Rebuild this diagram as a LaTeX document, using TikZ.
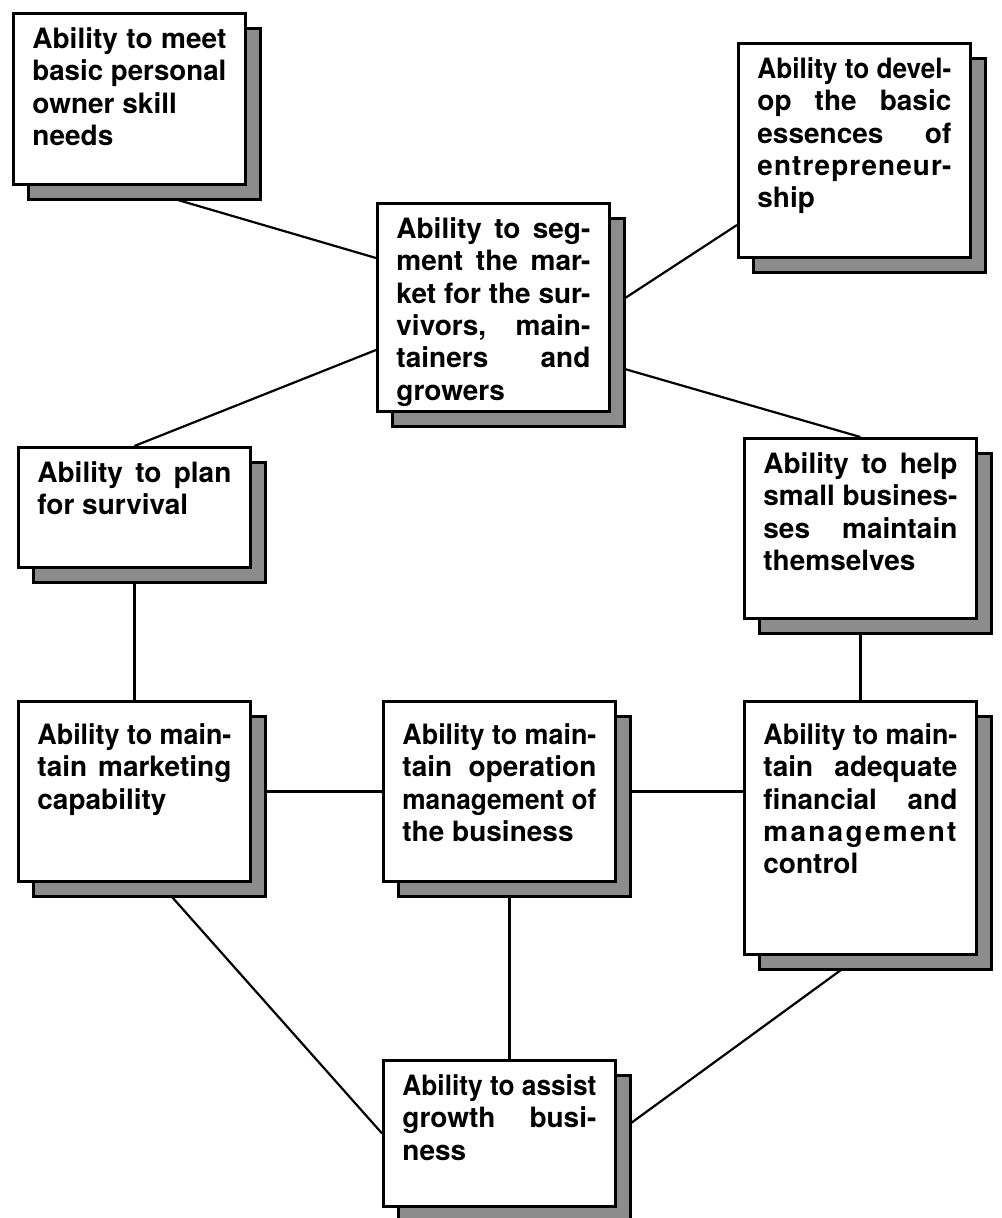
\documentclass[tikz,border=0pt]{standalone}
\usepackage{fontspec}
\usepackage{graphicx}
\setmainfont{TeX Gyre Heros}
\usetikzlibrary{shadows,calc,backgrounds}

% width of the text column inside every box
\newlength\cellw
\setlength\cellw{97pt}
\newlength\natw

% one line of a box: stretched (s) or left aligned (l); squeezed if too long
\newcommand\fitline[2]{%
  \settowidth\natw{#2}%
  \ifdim\natw>\cellw\resizebox{\cellw}{\height}{#2}\else\makebox[\cellw][#1]{#2}\fi\par}
\newcommand\J[1]{\fitline{s}{#1}}
\newcommand\R[1]{\fitline{l}{#1}}
\newcommand\spaced[2]{{\addfontfeature{LetterSpace=#1}#2}}

% text block of a box: [top gap]{height}{lines}
\newcommand\boxcontent[3][0pt]{%
  \parbox[c][#2][t]{\cellw}{\setlength\parskip{0pt}\fontsize{14pt}{16.2pt}\selectfont\bfseries
    \vspace*{#1}#3}}

\tikzset{
  box/.style={draw, line width=1.4pt, fill=white, anchor=north west,
    inner xsep=9.5pt, inner ysep=7pt,
    drop shadow={shadow xshift=7.5pt, shadow yshift=-7.5pt, opacity=1,
      fill=black!45, draw=black, line width=1.4pt}},
  link/.style={line width=1.1pt}
}

\begin{document}
\begin{tikzpicture}[x=0.5pt, y=-0.5pt]
\useasboundingbox (0,0) rectangle (1001,1218);

% skill boxes
\node[box] (b1) at (12,12) {\boxcontent{71.5pt}{%
  \J{Ability to meet}\J{basic personal}\R{owner skill}\R{needs}}};
\node[box] (b2) at (737,42) {\boxcontent{93pt}{%
  \J{Ability to devel-}\J{op the basic}\J{essences of}%
  \J{\spaced{4}{entrepreneur-}}\R{ship}}};
\node[box] (b3) at (376,202) {\boxcontent{90pt}{%
  \J{Ability to seg-}\J{ment the mar-}\J{ket for the sur-}%
  \J{vivors, main-}\J{tainers and}\R{growers}}};
\node[box] (b4) at (17,446) {\boxcontent{46pt}{%
  \J{Ability to plan}\R{for survival}}};
\node[box] (b5) at (743,437) {\boxcontent{76pt}{%
  \J{Ability to help}\J{small busines-}\J{ses maintain}\R{themselves}}};
\node[box] (b6) at (17,700) {\boxcontent[4pt]{76pt}{%
  \J{Ability to main-}\J{tain marketing}\R{capability}}};
\node[box] (b7) at (382,700) {\boxcontent[4pt]{76pt}{%
  \J{Ability to main-}\J{tain operation}\J{management of}\R{the business}}};
\node[box] (b8) at (743,700) {\boxcontent[4pt]{112.5pt}{%
  \J{Ability to main-}\J{tain adequate}\J{financial and}%
  \J{\spaced{8}{management}}\R{control}}};
\node[box] (b9) at (382,1059) {\boxcontent{59pt}{%
  \J{Ability to assist}\J{growth busi-}\R{ness}}};

% connecting lines, kept behind the boxes
\begin{pgfonlayer}{background}
\draw[link] (b1.south) -- ($(b3.north west)+(0,56)$);
\draw[link] (b3.east) -- ($(b2.north west)+(0,183)$);
\draw[link] ($(b3.north west)+(0,148)$) -- (b4.north);
\draw[link] ($(b3.north east)+(0,163)$) -- (b5.north);
\draw[link] (b4.south) -- (b6.north);
\draw[link] (b5.south) -- (b8.north);
\draw[link] (b6.east) -- (b7.west);
\draw[link] (b7.east) -- (b7.east -| b8.west);
\draw[link] ($(b7.south)+(10,0)$) -- ($(b9.north)+(10,0)$);
\draw[link] ($(b6.south)+(25,0)$) -- (b9.west);
\draw[link] (b8.south) -- (b9.east);
\end{pgfonlayer}
\end{tikzpicture}
\end{document}
